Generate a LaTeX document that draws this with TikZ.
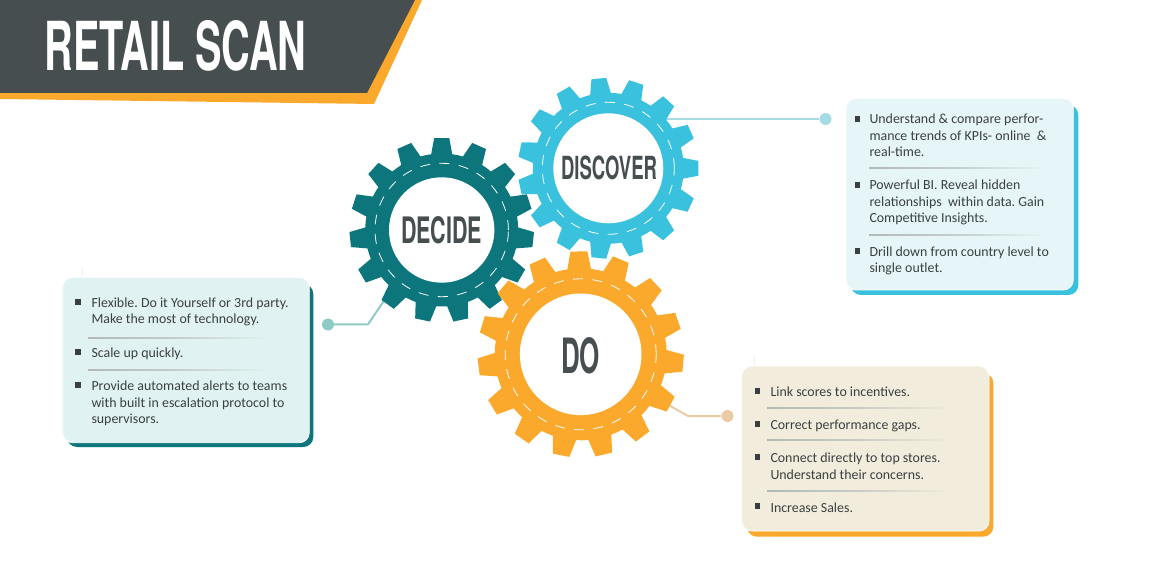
\documentclass[tikz,border=0pt]{standalone}
\usepackage{fontspec}
\setmainfont{Carlito}
\newfontfamily\headfont{TeX Gyre Heros}[BoldFont=* Bold]
\definecolor{slate}{HTML}{474E50}
\definecolor{amber}{HTML}{FBA92C}
\definecolor{tealc}{HTML}{0C767C}
\definecolor{skyc}{HTML}{3AC1DD}
\definecolor{tealpale}{HTML}{E0F2F1}
\definecolor{skypale}{HTML}{E6F5F7}
\definecolor{creampale}{HTML}{F1ECDB}
\definecolor{tealline}{HTML}{8ECBC6}
\definecolor{skyline}{HTML}{A5DCE4}
\definecolor{amberline}{HTML}{EBCBA2}
\definecolor{bodyc}{HTML}{3A4042}
\definecolor{sepdark}{HTML}{B3B9B8}
\tikzset{
  x=1pt,y=-1pt,
  bodytext/.style={anchor=base west,inner sep=0pt,yshift=-0.5pt,text=bodyc,font=\fontsize{13.9}{16}\selectfont\frenchspacing},
  bulletmark/.style={fill=bodyc,minimum size=5.2pt,inner sep=0pt,rectangle},
  dotnode/.style={circle,inner sep=0pt,minimum size=12pt},
  gearhub/.style={circle,inner sep=0pt},
  linkline/.style={line width=2pt,line join=round},
  card/.style={rounded corners=10pt,draw=white,line width=0.8pt},
  backcard/.style={rounded corners=10pt},
  gearlabel/.style={inner sep=0pt,text=slate,font=\headfont\bfseries}
}
% cx cy tipR rootR holeR dashR offset colour
\newcommand{\gearwheel}[8]{%
  \begin{scope}[shift={(#1,#2)}]
    \fill[#8] (#7-12:#4pt)
      \foreach \k [evaluate=\k as \a using \k*24+#7] in {0,...,14} {
        -- (\a-7.9:#4pt) -- (\a-4.7:#3pt) -- (\a+4.7:#3pt) -- (\a+7.9:#4pt) -- (\a+12:#4pt)
      } -- cycle;
    \fill[white] (0,0) circle[radius=#5pt];
    \draw[white,line width=0.8pt,dash pattern=on 10pt off 9.4pt] (0,0) circle[radius=#6pt];
  \end{scope}}
\newcommand{\sepline}[4]{\fill[left color=sepdark,right color=#4,middle color=#4!35!sepdark,shading angle=90,draw=none] (#1,#3) rectangle (#2,#3+1);}
\begin{document}
\begin{tikzpicture}
\useasboundingbox (0,0) rectangle (1170,585);
\fill[white] (0,0) rectangle (1170,585);
% header
\fill[amber] (0,88) -- (360,88) -- (410,0) -- (422,0) -- (374,104) -- (0,99) -- cycle;
\fill[slate] (0,0) -- (415,0) -- (367,93) -- (0,93) -- cycle;
\node[inner sep=0pt,text=white,font=\headfont\bfseries] (title) at (175.5,46.2) {\resizebox{262pt}{50pt}{RETAIL SCAN}};
% gear hubs and link ends
\node[gearhub,minimum size=160pt] (hubdecide) at (441.7,230) {};
\node[gearhub,minimum size=160pt] (hubdiscover) at (608.3,168.3) {};
\node[gearhub,minimum size=178pt] (hubdo) at (580.7,354.3) {};
\node[dotnode,fill=tealline] (dotdecide) at (328,324.5) {};
\node[dotnode,fill=skyline] (dotdiscover) at (825.5,119) {};
\node[dotnode,fill=amberline] (dotdo) at (727.5,416) {};
\coordinate (benddecide) at (368,324.5);
\coordinate (benddo) at (688,416);
\draw[linkline,tealline] (dotdecide) -- (benddecide) -- (hubdecide.-130);
\draw[linkline,skyline] (dotdiscover) -- (hubdiscover.center |- dotdiscover);
\draw[linkline,amberline] (dotdo) -- (benddo) -- (hubdo.-30);
% gears
\gearwheel{608.3}{168.3}{90.5}{75.5}{55}{66}{0}{skyc}
\gearwheel{441.7}{230}{92.3}{76.5}{52.7}{66.7}{18}{tealc}
\gearwheel{580.7}{354.3}{103.2}{86}{60.8}{75.5}{19}{amber}
\node[gearlabel] (labdecide) at (441.7,230) {\resizebox{81pt}{27pt}{DECIDE}};
\node[gearlabel] (labdiscover) at (609,167.7) {\resizebox{96pt}{23.6pt}{DISCOVER}};
\node[gearlabel] (labdo) at (580.7,356) {\resizebox{39pt}{36pt}{DO}};
% left card
\draw[amberline!35,line width=0.5pt] (82,268) -- (82,276);
\fill[tealc,backcard] (67,284) rectangle (313.3,447);
\fill[tealpale,card] (62.7,277.3) rectangle (309.3,442.7);
\node[bulletmark] (lb1) at (78,302) {};
\node[bodytext] (l1a) at (91.3,306.7) {Flexible. Do it Yourself or 3rd party.};
\node[bodytext] (l1b) at (91.3,323.3) {Make the most of technology.};
\sepline{88}{268}{337}{tealpale}
\node[bulletmark] (lb2) at (78,352) {};
\node[bodytext] (l2a) at (91.3,356.7) {Scale up quickly.};
\sepline{88}{268}{369}{tealpale}
\node[bulletmark] (lb3) at (78,385) {};
\node[bodytext] (l3a) at (91.3,390) {Provide automated alerts to teams};
\node[bodytext] (l3b) at (91.3,406.5) {with built in escalation protocol to};
\node[bodytext] (l3c) at (91.3,423) {supervisors.};
% right card
\fill[skyc,backcard] (851,105) rectangle (1078.3,295);
\fill[skypale,card] (846,98.3) rectangle (1073.3,290);
\node[bulletmark] (rb1) at (857.7,119) {};
\node[bodytext] (r1a) at (869.3,123.3) {Understand \& compare perfor-};
\node[bodytext] (r1b) at (869.3,140) {mance trends of KPIs- online\ \ \&};
\node[bodytext] (r1c) at (869.3,156.5) {real-time.};
\sepline{869}{1047}{168}{skypale}
\node[bulletmark] (rb2) at (857.7,185) {};
\node[bodytext] (r2a) at (869.3,189.3) {Powerful BI. Reveal hidden};
\node[bodytext] (r2b) at (869.3,206) {relationships\ \ within data. Gain};
\node[bodytext] (r2c) at (869.3,222.5) {Competitive Insights.};
\sepline{869}{1047}{235}{skypale}
\node[bulletmark] (rb3) at (857.7,251) {};
\node[bodytext] (r3a) at (869.3,255.7) {Drill down from country level to};
\node[bodytext] (r3b) at (869.3,272.3) {single outlet.};
% bottom card
\draw[amberline!35,line width=0.5pt] (754,356) -- (754,365);
\fill[amber,backcard] (747,373) rectangle (993.3,536.7);
\fill[creampale,card] (741.7,366) rectangle (989,531);
\node[bulletmark] (bb1) at (757.3,391) {};
\node[bodytext] (b1a) at (770.3,395.7) {Link scores to incentives.};
\sepline{767}{950}{407.5}{creampale}
\node[bulletmark] (bb2) at (757.3,424) {};
\node[bodytext] (b2a) at (770.3,429.3) {Correct performance gaps.};
\sepline{767}{950}{439.5}{creampale}
\node[bulletmark] (bb3) at (757.3,457) {};
\node[bodytext] (b3a) at (770.3,462.3) {Connect directly to top stores.};
\node[bodytext] (b3b) at (770.3,479) {Understand their concerns.};
\sepline{767}{950}{490.5}{creampale}
\node[bulletmark] (bb4) at (757.3,506) {};
\node[bodytext] (b4a) at (770.3,511.7) {Increase Sales.};
\end{tikzpicture}
\end{document}
